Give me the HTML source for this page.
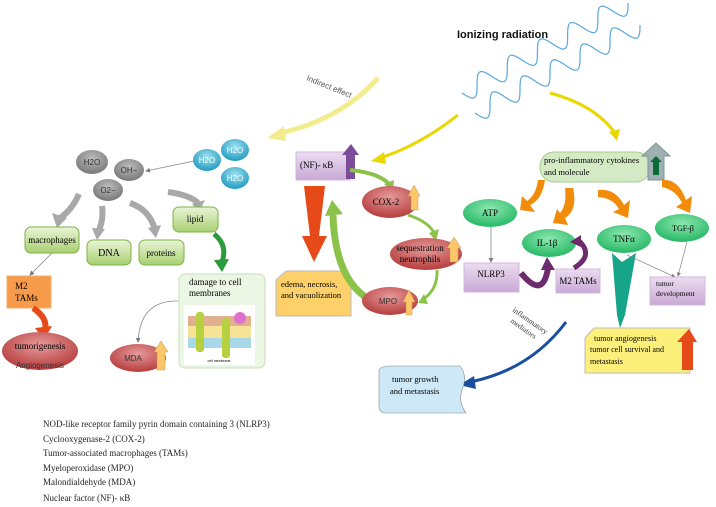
<!DOCTYPE html>
<html><head><meta charset="utf-8"><style>
html,body{margin:0;padding:0;background:#fff;}
svg{display:block;}
.s{font-family:"Liberation Serif",serif;}
.a{font-family:"Liberation Sans",sans-serif;}
</style></head><body>
<svg id="sv" width="716" height="507" viewBox="0 0 716 507" xmlns="http://www.w3.org/2000/svg">
<defs>
<linearGradient id="gG" x1="0" y1="0" x2="0" y2="1"><stop offset="0" stop-color="#eaf5d8"/><stop offset="1" stop-color="#a9cf72"/></linearGradient>
<radialGradient id="gE" cx="0.5" cy="0.35" r="0.6"><stop offset="0" stop-color="#8ee8b0"/><stop offset="1" stop-color="#2dbb6a"/></radialGradient>
<radialGradient id="gR" cx="0.5" cy="0.35" r="0.6"><stop offset="0" stop-color="#e79a9a"/><stop offset="1" stop-color="#b94343"/></radialGradient>
<radialGradient id="gGr" cx="0.5" cy="0.35" r="0.6"><stop offset="0" stop-color="#bdbdbd"/><stop offset="1" stop-color="#7d7d7d"/></radialGradient>
<radialGradient id="gB" cx="0.5" cy="0.35" r="0.6"><stop offset="0" stop-color="#9fe0ef"/><stop offset="1" stop-color="#2aa0c4"/></radialGradient>
<linearGradient id="gP" x1="0" y1="0" x2="0" y2="1"><stop offset="0" stop-color="#ecdcf0"/><stop offset="1" stop-color="#c9a9d6"/></linearGradient>
<marker id="ah" markerWidth="6" markerHeight="6" refX="5" refY="3" orient="auto"><path d="M0,0 L6,3 L0,6 z" fill="#777"/></marker>
</defs>

<!-- waves -->
<path id="w1" fill="none" stroke="#5aa8dc" stroke-width="1.2"/>
<path id="w2" fill="none" stroke="#5aa8dc" stroke-width="1.2"/>
<text x="457" y="38" class="a" font-size="11" font-weight="bold" fill="#111">Ionizing radiation</text>

<!-- yellow arrows -->
<path d="M378,78 Q340,120 280,133" fill="none" stroke="#f3ec8c" stroke-width="5"/>
<path d="M284,126 L267,138 L286,141 z" fill="#f3ec8c"/>
<text x="0" y="0" class="a" font-size="8" fill="#555" transform="translate(306,80) rotate(22)">Indirect effect</text>
<path d="M458,115 Q420,145 380,158" fill="none" stroke="#e8d800" stroke-width="3"/>
<path d="M384,152 L371,161 L386,164 z" fill="#e8d800"/>
<path d="M550,93 Q595,105 615,133" fill="none" stroke="#e8d800" stroke-width="3"/>
<path d="M609,132 L617,141 L620,129 z" fill="#e8d800"/>

<!-- left cluster -->
<ellipse cx="92" cy="162" rx="16" ry="12" fill="url(#gGr)"/><text x="92" y="165" class="a" font-size="8" fill="#333" text-anchor="middle">H2O</text>
<ellipse cx="129" cy="170" rx="15" ry="11" fill="url(#gGr)"/><text x="129" y="173" class="a" font-size="8" fill="#333" text-anchor="middle">OH−</text>
<ellipse cx="108" cy="190" rx="15" ry="11" fill="url(#gGr)"/><text x="108" y="193" class="a" font-size="8" fill="#333" text-anchor="middle">O2−</text>
<ellipse cx="207" cy="160" rx="14" ry="11" fill="url(#gB)"/><text x="207" y="163" class="a" font-size="8" fill="#fff" text-anchor="middle">H2O</text>
<ellipse cx="235" cy="150" rx="14" ry="11" fill="url(#gB)"/><text x="235" y="153" class="a" font-size="8" fill="#fff" text-anchor="middle">H2O</text>
<ellipse cx="235" cy="178" rx="14" ry="11" fill="url(#gB)"/><text x="235" y="181" class="a" font-size="8" fill="#fff" text-anchor="middle">H2O</text>
<line x1="194" y1="161" x2="146" y2="171" stroke="#888" stroke-width="0.8" marker-end="url(#ah)"/>

<!-- grey curved arrows -->
<g fill="none" stroke="#a8a8a8" stroke-width="6">
<path d="M79,194 Q72,210 60,218"/><path d="M102,206 Q104,220 98,232"/><path d="M130,203 Q150,210 155,230"/><path d="M168,192 Q190,195 198,203"/>
</g>
<g fill="#a8a8a8">
<path d="M52,213 L57,228 L67,218 z"/><path d="M92,228 L97,240 L105,229 z"/><path d="M148,228 L156,238 L161,225 z"/><path d="M192,204 L199,212 L205,200 z"/>
</g>

<g stroke="#7cb342" stroke-width="1">
<rect x="25" y="227" width="54" height="26" rx="6" fill="url(#gG)"/>
<rect x="87" y="240" width="44" height="25" rx="6" fill="url(#gG)"/>
<rect x="139" y="240" width="45" height="25" rx="6" fill="url(#gG)"/>
<rect x="173" y="207" width="45" height="25" rx="6" fill="url(#gG)"/>
</g>
<text x="52" y="243" class="s" font-size="9" text-anchor="middle">macrophages</text>
<text x="109" y="256" class="s" font-size="10" text-anchor="middle">DNA</text>
<text x="161" y="256" class="s" font-size="9" text-anchor="middle">proteins</text>
<text x="195" y="222" class="s" font-size="9" text-anchor="middle">lipid</text>
<path d="M214,234 Q228,245 222,262" fill="none" stroke="#2e9a3e" stroke-width="5"/>
<path d="M214,260 L222,272 L229,259 z" fill="#2e9a3e"/>

<line x1="52" y1="253" x2="30" y2="275" stroke="#888" stroke-width="0.8" marker-end="url(#ah)"/>
<rect x="7" y="276" width="44" height="32" fill="#f79a4a" stroke="#f0b070"/>
<text x="15" y="289" class="s" font-size="9">M2</text><text x="15" y="301" class="s" font-size="9">TAMs</text>
<path d="M33,308 Q48,318 45,330" fill="none" stroke="#e64a19" stroke-width="6"/>
<path d="M35,328 L44,340 L52,326 z" fill="#e64a19"/>
<ellipse cx="40" cy="351" rx="38" ry="19" fill="url(#gR)"/>
<text x="40" y="349" class="s" font-size="9" text-anchor="middle">tumorigenesis</text>
<text x="40" y="368" class="a" font-size="8" fill="#333" text-anchor="middle">Angiogenesis</text>

<rect x="179" y="274" width="86" height="94" rx="6" fill="#ecf6e4" stroke="#c6e0b4"/>
<text x="189" y="285" class="s" font-size="9">damage to cell</text>
<text x="189" y="296" class="s" font-size="9">membranes</text>
<rect x="184" y="305" width="71" height="60" fill="#fff"/>
<g>
<rect x="188" y="316" width="63" height="10" fill="#e0b090"/>
<rect x="188" y="326" width="63" height="12" fill="#f0d050" opacity="0.6"/>
<rect x="188" y="338" width="63" height="10" fill="#a8d8e8"/>
<rect x="196" y="312" width="8" height="40" rx="3" fill="#b8d040"/>
<rect x="222" y="318" width="8" height="40" rx="3" fill="#b8d040"/>
<circle cx="240" cy="318" r="6" fill="#e070d0"/>
</g>
<text x="219" y="362" class="a" font-size="3.5" text-anchor="middle">cell membrane</text>
<path d="M178,301 Q140,300 138,342" fill="none" stroke="#888" stroke-width="0.8" marker-end="url(#ah)"/>
<ellipse cx="138" cy="358" rx="28" ry="14" fill="url(#gR)"/>
<text x="133" y="361" class="a" font-size="8" fill="#333" text-anchor="middle">MDA</text>
<path d="M157,370 L157,352 L154,352 L161,341 L168,352 L165,352 L165,370 z" fill="#fcc66a" stroke="#c89a4a" stroke-width="0.5"/>

<!-- middle cluster -->
<rect x="296" y="152" width="54" height="28" fill="url(#gP)" stroke="#d0b8dc"/>
<text x="300" y="168" class="s" font-size="9">(NF)- κB</text>
<path d="M346,179 L346,155 L342,155 L351,144 L359,155 L355,155 L355,179 z" fill="#7b4c9a"/>
<path d="M304,186 L325,186 L319,236 L327,236 L314,262 L302,236 L310,236 z" fill="#e64a19"/>
<path d="M276,280 L286,271 L342,271 L351,280 L351,316 L276,316 z" fill="#fdd06a" stroke="#bbb"/>
<text x="281" y="287" class="s" font-size="8.5">edema, necrosis,</text>
<text x="281" y="298" class="s" font-size="8.5">and vacuolization</text>
<path d="M350,170 Q380,173 390,185" fill="none" stroke="#8bc34a" stroke-width="4"/>
<path d="M384,184 L393,192 L394,180 z" fill="#8bc34a"/>
<path d="M408,215 Q430,222 435,235" fill="none" stroke="#8bc34a" stroke-width="3"/>
<path d="M429,233 L436,241 L439,229 z" fill="#8bc34a"/>
<path d="M437,270 Q438,290 422,300" fill="none" stroke="#8bc34a" stroke-width="3"/>
<path d="M424,294 L418,303 L428,304 z" fill="#8bc34a"/>
<path d="M370,300 Q335,280 333,215" fill="none" stroke="#8bc34a" stroke-width="7"/>
<path d="M325,216 L332,200 L343,214 z" fill="#8bc34a"/>
<ellipse cx="390" cy="202" rx="28" ry="16" fill="url(#gR)"/>
<text x="386" y="205" class="s" font-size="9" text-anchor="middle">COX-2</text>
<path d="M411,210 L411,196 L408,196 L414,185 L420,196 L418,196 L418,210 z" fill="#fcc66a" stroke="#c89a4a" stroke-width="0.5"/>
<ellipse cx="426" cy="254" rx="36" ry="16" fill="url(#gR)"/>
<text x="420" y="251" class="s" font-size="9" text-anchor="middle">sequestration</text>
<text x="420" y="262" class="s" font-size="9" text-anchor="middle">neutrophils</text>
<path d="M450,262 L450,248 L447,248 L454,237 L461,248 L458,248 L458,262 z" fill="#fcc66a" stroke="#c89a4a" stroke-width="0.5"/>
<ellipse cx="390" cy="301" rx="28" ry="14" fill="url(#gR)"/>
<text x="388" y="304" class="a" font-size="8" fill="#333" text-anchor="middle">MPO</text>
<path d="M406,315 L406,302 L403,302 L409,290 L415,302 L412,302 L412,315 z" fill="#fcc66a" stroke="#c89a4a" stroke-width="0.5"/>

<!-- right cluster -->
<rect x="540" y="152" width="110" height="30" rx="14" fill="#d3eac4" stroke="#a9cc90"/>
<text x="544" y="163" class="s" font-size="8.5">pro-inflammatory cytokines</text>
<text x="544" y="175" class="s" font-size="8.5">and molecule</text>
<path d="M648,180 L648,156 L642,156 L656,143 L670,156 L664,156 L664,180 z" fill="#9fb0b3" stroke="#7f9296"/>
<path d="M653,175 L653,162 L650,162 L656,156 L662,162 L659,162 L659,175 z" fill="#0b6a3a"/>
<g fill="#f28a0a">
<path d="M545,180 Q542,200 530,205 L535,212 L520,210 L522,196 L527,201 Q536,195 538,180 z"/>
<path d="M573,188 Q578,210 565,218 L568,225 L553,223 L557,209 L560,213 Q567,205 565,188 z"/>
<path d="M598,190 Q615,188 624,205 L630,200 L628,218 L613,212 L619,209 Q613,198 598,197 z"/>
<path d="M662,180 Q678,178 686,200 L692,196 L690,213 L676,207 L682,203 Q676,190 662,187 z"/>
</g>
<ellipse cx="490" cy="213" rx="27" ry="14" fill="url(#gE)"/><text x="490" y="216" class="s" font-size="9" text-anchor="middle">ATP</text>
<ellipse cx="549" cy="243" rx="27" ry="14" fill="url(#gE)"/><text x="547" y="246" class="s" font-size="9" text-anchor="middle">IL-1β</text>
<ellipse cx="624" cy="239" rx="27" ry="14" fill="url(#gE)"/><text x="624" y="242" class="s" font-size="9" text-anchor="middle">TNFα</text>
<ellipse cx="682" cy="228" rx="27" ry="14" fill="url(#gE)"/><text x="683" y="231" class="s" font-size="8" text-anchor="middle">TGF-β</text>
<line x1="491" y1="227" x2="491" y2="262" stroke="#888" stroke-width="0.8" marker-end="url(#ah)"/>
<rect x="464" y="263" width="55" height="29" fill="url(#gP)" stroke="#d0b8dc"/>
<text x="491" y="277" class="s" font-size="9" text-anchor="middle">NLRP3</text>
<rect x="556" y="269" width="44" height="24" fill="url(#gP)" stroke="#d0b8dc"/>
<text x="578" y="284" class="s" font-size="9" text-anchor="middle">M2 TAMs</text>
<path d="M521,273 Q543,300 548,268" fill="none" stroke="#6d2a6d" stroke-width="6"/>
<path d="M541,270 L547,257 L555,270 z" fill="#6d2a6d"/>
<path d="M574,268 Q595,255 578,240" fill="none" stroke="#6d2a6d" stroke-width="5"/>
<path d="M581,235 L570,242 L581,247 z" fill="#6d2a6d"/>
<path d="M612,253 L622,262 L636,253 L625,315 L620,328 L617,315 z" fill="#17a589"/>
<line x1="627" y1="255" x2="675" y2="277" stroke="#888" stroke-width="0.7" marker-end="url(#ah)"/>
<line x1="687" y1="242" x2="678" y2="276" stroke="#888" stroke-width="0.7" marker-end="url(#ah)"/>
<rect x="650" y="277" width="55" height="28" fill="url(#gP)" stroke="#d0b8dc"/>
<text x="656" y="286" class="s" font-size="7.5">tumor</text>
<text x="656" y="296" class="s" font-size="7.5">development</text>
<path d="M585,338 L594,328 L690,328 L690,373 L585,373 z" fill="#fdf07a" stroke="#bbb"/>
<text x="594" y="341" class="s" font-size="8">tumor angiogenesis</text>
<text x="590" y="352" class="s" font-size="8">tumor cell survival and</text>
<text x="590" y="364" class="s" font-size="8">metastasis</text>
<path d="M682,370 L682,342 L677,342 L689,329 L697,342 L693,342 L693,370 z" fill="#e64a19"/>
<path d="M566,322 Q530,370 470,382" fill="none" stroke="#1a4fa0" stroke-width="3"/>
<path d="M474,376 L459,385 L476,389 z" fill="#1a4fa0"/>
<text class="s" font-size="7.5" fill="#333" transform="translate(512,311) rotate(35)">inflammatory</text>
<text class="s" font-size="7.5" fill="#333" transform="translate(510,322) rotate(35)">mediators</text>
<path d="M379,370 Q381,366 390,366 L460,366 Q468,376 462,390 Q458,402 466,413 L385,413 Q379,413 379,405 z" fill="#cde8f6" stroke="#888" stroke-width="0.6"/>
<text x="392" y="382" class="s" font-size="8.5">tumor growth</text>
<text x="390" y="394" class="s" font-size="8.5">and metastasis</text>

<!-- legend -->
<g class="s" font-size="9" fill="#222">
<text x="43" y="427">NOD-like receptor family pyrin domain containing 3 (NLRP3)</text>
<text x="43" y="442">Cyclooxygenase-2 (COX-2)</text>
<text x="43" y="456">Tumor-associated macrophages (TAMs)</text>
<text x="43" y="471">Myeloperoxidase (MPO)</text>
<text x="43" y="485">Malondialdehyde (MDA)</text>
<text x="43" y="501">Nuclear factor (NF)- κB</text>
</g>
</svg>
<script>
function wave(id,x0,y0,x1,y1,n,a){var dx=x1-x0,dy=y1-y0,L=Math.hypot(dx,dy),ux=dx/L,uy=dy/L,px=-uy,py=ux,d="";for(var i=0;i<=200;i++){var t=i/200,s=a*Math.sin(t*n*2*Math.PI);var x=x0+dx*t+px*s,y=y0+dy*t+py*s;d+=(i?"L":"M")+x.toFixed(1)+","+y.toFixed(1);}document.getElementById(id).setAttribute("d",d);}
wave("w1",462,93,628,3,5.5,10);wave("w2",475,113,640,25,5.5,10);
</script>
</body></html>
